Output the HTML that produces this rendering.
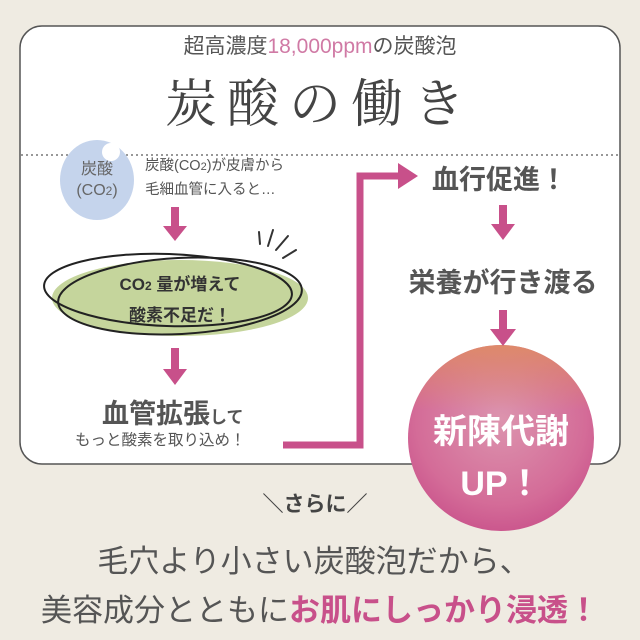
<!DOCTYPE html>
<html><head><meta charset="utf-8"><style>
html,body{margin:0;padding:0}
body{width:640px;height:640px;background:#efebe2;position:relative;overflow:hidden;font-family:"Liberation Sans","Noto Sans CJK JP",sans-serif;color:#555}
.t{position:absolute;white-space:nowrap}
</style></head><body>
<svg width="640" height="640" style="position:absolute;left:0;top:0">
<defs>
<radialGradient id="g" cx="0.5" cy="0.4" r="0.65">
<stop offset="0" stop-color="#dc94ae"/><stop offset="0.7" stop-color="#d46c98"/><stop offset="1" stop-color="#c8508a"/>
</radialGradient>
<linearGradient id="o" x1="0" y1="0" x2="0" y2="1">
<stop offset="0" stop-color="#e0905e" stop-opacity="0.8"/><stop offset="0.35" stop-color="#e0905e" stop-opacity="0"/>
</linearGradient>
</defs>
<rect x="20" y="26" width="600" height="438" rx="22" fill="#fff" stroke="#555" stroke-width="1.5"/>
<line x1="21" y1="155" x2="619" y2="155" stroke="#777" stroke-width="1.5" stroke-dasharray="2,3"/>
<ellipse cx="97" cy="180" rx="37" ry="40" fill="#c5d4ec"/>
<circle cx="111" cy="152" r="9" fill="#fff"/>
<circle cx="501" cy="438" r="93" fill="url(#g)"/>
<circle cx="501" cy="438" r="93" fill="url(#o)"/>
<g fill="#c8508a">
<rect x="171" y="207" width="8" height="20"/><polygon points="163,226 187,226 175,241"/>
<rect x="171" y="348" width="8" height="22"/><polygon points="163,369 187,369 175,385"/>
<rect x="499" y="205" width="8" height="20"/><polygon points="491,224 515,224 503,240"/>
<rect x="499" y="310" width="8" height="20"/><polygon points="490,329 516,329 503,346"/>
<polygon points="398,163 418,176 398,189"/>
</g>
<polyline points="283,445 360,445 360,176 400,176" fill="none" stroke="#c8508a" stroke-width="7"/>
<ellipse cx="180" cy="298" rx="128" ry="38" fill="#c5d59c"/>
<ellipse cx="168" cy="290" rx="124" ry="36" fill="none" stroke="#222" stroke-width="2" transform="rotate(2 168 290)"/>
<ellipse cx="180" cy="296" rx="122" ry="38" fill="none" stroke="#222" stroke-width="2" transform="rotate(-3 180 296)"/>
<g stroke="#333" stroke-width="2" stroke-linecap="round">
<line x1="259" y1="232" x2="260" y2="244"/><line x1="268" y1="246" x2="273" y2="230"/>
<line x1="276" y1="250" x2="288" y2="236"/><line x1="283" y1="258" x2="296" y2="250"/>
</g>
</svg>
<div class="t" style="left:0;width:640px;text-align:center;top:30px;font-size:21px;color:#555">超高濃度<span style="color:#d07aa5">18,000ppm</span>の炭酸泡</div>
<div class="t" style="left:0;width:640px;text-align:center;top:62px;font-size:52px;color:#444;letter-spacing:10px;font-family:'Liberation Serif','Noto Serif CJK SC',serif">炭酸の働き</div>
<div class="t" style="left:62px;width:70px;text-align:center;top:159px;font-size:16px;line-height:21px;color:#666">炭酸<br>(CO<span style="font-size:12px">2</span>)</div>
<div class="t" style="left:145px;top:155px;font-size:14.5px;line-height:23px;color:#555">炭酸(CO<span style="font-size:11px">2</span>)が皮膚から<br>毛細血管に入ると…</div>
<div class="t" style="left:80px;width:200px;text-align:center;top:270px;font-size:17px;line-height:30px;font-weight:bold;color:#333">CO<span style="font-size:12px">2</span> 量が増えて<br>酸素不足だ！</div>
<div class="t" style="left:102px;top:392px;font-size:27px;font-weight:bold;color:#555">血管拡張<span style="font-size:17px">して</span></div>
<div class="t" style="left:75px;top:428px;font-size:15.5px;color:#555">もっと酸素を取り込め！</div>
<div class="t" style="left:432px;top:158px;font-size:27px;font-weight:bold;color:#555">血行促進！</div>
<div class="t" style="left:400px;width:206px;text-align:center;top:261px;font-size:27px;font-weight:bold;color:#555">栄養が行き渡る</div>
<div class="t" style="left:406px;width:190px;text-align:center;top:406px;font-size:34px;line-height:52px;font-weight:bold;color:#fff">新陳代謝<br>UP！</div>
<div class="t" style="left:0;width:640px;text-align:center;top:488px;font-size:21px;color:#444;font-weight:bold;padding-right:10px;box-sizing:border-box">＼さらに／</div>
<div class="t" style="left:0;width:640px;text-align:center;top:536px;font-size:31px;color:#555;padding-right:12px;box-sizing:border-box">毛穴より小さい炭酸泡だから、</div>
<div class="t" style="left:0;width:640px;text-align:center;top:585px;font-size:31px;color:#555">美容成分とともに<span style="color:#c8508a;font-weight:bold">お肌にしっかり浸透！</span></div>
</body></html>
